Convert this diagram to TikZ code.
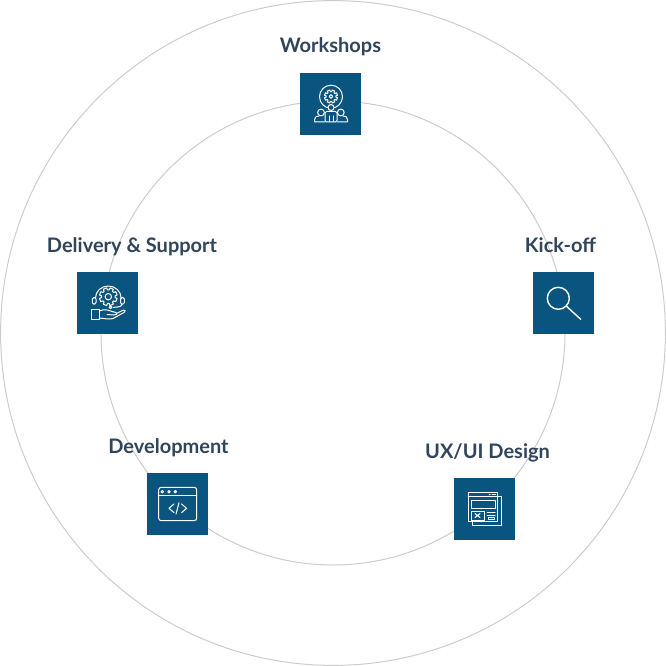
\documentclass[tikz,border=0pt]{standalone}
\usepackage{fontspec}
\setmainfont{Lato}
\definecolor{stepblue}{HTML}{0A5580}
\definecolor{labeltext}{HTML}{30445A}
\definecolor{ringgray}{HTML}{CCCCCC}
\usetikzlibrary{calc,positioning}

% gear outline: centre, outer radius, root radius, hole radius
\newcommand{\geartrace}[4]{%
  \draw[iconline] #1 ++(0:#3)
    \foreach \a in {0,45,...,315} {
      -- ($#1+(\a+7:#3)$) -- ($#1+(\a+11:#2)$) -- ($#1+(\a+34:#2)$) -- ($#1+(\a+38:#3)$)
    } -- cycle;
  \draw[iconline] #1 circle [radius=#4];
}

\tikzset{
  ring/.style={draw=ringgray, line width=1pt},
  stepbox/.style={draw=none, fill=stepblue, minimum width=61pt, minimum height=62pt, inner sep=0pt},
  steplabel/.style={text=labeltext, anchor=base, font=\fontsize{20}{22}\selectfont\bfseries, inner sep=0pt},
  iconline/.style={draw=white, line width=1pt, line join=round, line cap=round},
}

\begin{document}
\begin{tikzpicture}[x=1pt, y=-1pt]
  \useasboundingbox (0,0) rectangle (666,666);

  % Rings
  \coordinate (centre) at (333,333);
  \draw[ring] (centre) circle [radius=332.4];
  \draw[ring] (centre) circle [radius=232];

  % Boxes
  \node[stepbox] (workshops) at (330.5,104) {};
  \node[stepbox] (kickoff) at (563.5,303) {};
  \node[stepbox] (uxui) at (484.5,509) {};
  \node[stepbox] (development) at (177.5,504) {};
  \node[stepbox] (delivery) at (107.5,303) {};

  % Labels
  \node[steplabel] (workshopslabel) at (330.5,53) {Workshops};
  \node[steplabel] (kickofflabel) at (560.5,252) {Kick-off};
  \node[steplabel] (uxuilabel) at (487.5,458) {UX/UI Design};
  \node[steplabel] (developmentlabel) at (168.5,453) {Development};
  \node[steplabel] (deliverylabel) at (132,252) {Delivery \& Support};

  % Workshops icon
  \draw[iconline] (331,96.7) circle [radius=11.5];
  \geartrace{(331,96.5)}{6.6}{4.8}{1.8}
  \draw[iconline, fill=stepblue] (331,107.5) circle [radius=3];
  \draw[iconline, fill=stepblue] (321,112.5) circle [radius=3.4];
  \draw[iconline, fill=stepblue] (340.8,112.5) circle [radius=3.4];
  \draw[iconline] (325,122) -- (314.5,122) -- (314.5,119.5) .. controls (314.5,116.5) and (317,116) .. (319,116);
  \draw[iconline] (337,122) -- (347.5,122) -- (347.5,119.5) .. controls (347.5,116.5) and (345,116) .. (343,116);
  \draw[iconline, fill=stepblue, rounded corners=1.5pt] (325,122) -- (325,111.5) -- (337,111.5) -- (337,122) -- cycle;
  \draw[iconline] (329,116) -- (329,122) (333,116) -- (333,122);

  % Kick-off icon
  \draw[iconline, line width=1.4pt] (558.3,298.3) circle [radius=11];
  \draw[iconline, line width=1.4pt] (566.2,306) -- (580.7,319.3);

  % UX/UI icon
  \draw[iconline] (497.7,496.3) -- (501.7,496.3) -- (501.7,525.7) -- (472.7,525.7) -- (472.7,521.7);
  \draw[iconline] (468.3,492.3) rectangle (497.7,521.7);
  \draw[iconline] (468.3,496.6) -- (497.7,496.6);
  \draw[iconline] (489,494.4) -- (490,494.4) (492,494.4) -- (495.5,494.4);
  \draw[iconline] (471,500) rectangle (495,508.3);
  \draw[iconline] (471,511) rectangle (484,520);
  \draw[iconline] (475,513.5) -- (480,517.5) (480,513.5) -- (475,517.5);
  \draw[iconline] (487,512.5) -- (495,512.5) (487,515) -- (495,515);
  \draw[iconline] (488.5,517) rectangle (494,519.7);

  % Development icon
  \draw[iconline, rounded corners=2.5pt] (158.7,487.3) rectangle (196.7,520.7);
  \draw[iconline] (158.7,495.7) -- (196.7,495.7);
  \foreach \dotx in {162.3,169,175.3}
    \draw[iconline] (\dotx,491.7) circle [radius=1.2];
  \draw[iconline] (174,504) -- (169,508.3) -- (174,512.6);
  \draw[iconline] (181.6,504) -- (186.6,508.3) -- (181.6,512.6);
  \draw[iconline] (179,502.7) -- (176,514);

  % Delivery & Support icon
  \draw[iconline] (95.5,298) arc (180:360:12.8 and 12);
  \geartrace{(108.3,296.7)}{9}{6.8}{3.2}
  \draw[iconline, rounded corners=1.5pt] (92.3,297.5) rectangle (96,304.2);
  \draw[iconline, rounded corners=1.5pt] (120.6,297.5) rectangle (124.3,304.2);
  \draw[iconline] (122,304.2) .. controls (122,306.5) and (118,307.3) .. (113.5,307.3);
  \draw[iconline] (110.5,307.3) circle [radius=1.4];
  \draw[iconline] (91.3,309.3) rectangle (99.3,319);
  \draw[iconline] (99.3,311) .. controls (104,309) and (107,309.5) .. (112,311.5)
    -- (116,312.5) .. controls (118,313.5) and (116.5,315.5) .. (114,315) -- (107,314.5);
  \draw[iconline] (116.5,313.5) -- (123.5,310) .. controls (125.5,309.5) and (125.5,311.5) .. (124,312.5)
    -- (113,318.5) .. controls (109,319.7) and (105,318.5) .. (99.3,318);
\end{tikzpicture}
\end{document}
